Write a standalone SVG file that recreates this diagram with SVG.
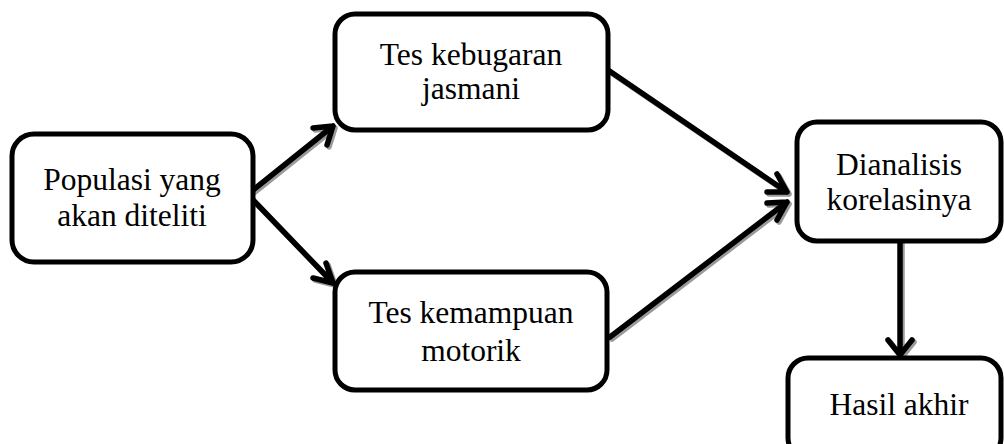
<svg xmlns="http://www.w3.org/2000/svg" width="1004" height="444" viewBox="0 0 1004 444">
<defs>
<style>
.box{fill:#fff;stroke:#000;stroke-width:5}
.t{font-family:"Liberation Serif","Times New Roman",serif;font-size:31.5px;fill:#000;text-anchor:middle}
.ln{fill:none;stroke:#000;stroke-width:5.5;stroke-linecap:round;stroke-linejoin:round}
.sh{fill:none;stroke:#9a9a9a;stroke-width:5.5;stroke-linecap:round;stroke-linejoin:round}
</style>
</defs>
<rect width="1004" height="444" fill="#fff"/>
<g id="connectors">
<g transform="translate(2,2)">
<path class="sh" d="M253 190 L333 126 M313 128 L333 126 L327 145"/>
<path class="sh" d="M253 200 L333 283 M326 263 L333 283 L313 278"/>
<path class="sh" d="M608 70 L787 192 M767 192 L787 192 L777 174"/>
<path class="sh" d="M610 337 L787 202 M777 220 L787 202 L767 203"/>
<path class="sh" d="M900 242 L900 355 M888 340 L900 355 L912 340"/>
</g>
<path class="ln" d="M253 190 L333 126 M313 128 L333 126 L327 145"/>
<path class="ln" d="M253 200 L333 283 M326 263 L333 283 L313 278"/>
<path class="ln" d="M608 70 L787 192 M767 192 L787 192 L777 174"/>
<path class="ln" d="M610 337 L787 202 M777 220 L787 202 L767 203"/>
<path class="ln" d="M900 242 L900 355 M888 340 L900 355 L912 340"/>
</g>
<g id="populasi">
<rect class="box" x="12" y="134" width="241" height="128" rx="22"/>
<text class="t" x="132" y="190">Populasi yang</text>
<text class="t" x="132" y="226">akan diteliti</text>
</g>
<g id="kebugaran">
<rect class="box" x="335" y="14" width="273" height="116" rx="20"/>
<text class="t" x="471" y="65">Tes kebugaran</text>
<text class="t" x="471" y="99">jasmani</text>
</g>
<g id="kemampuan">
<rect class="box" x="335" y="272" width="272" height="118" rx="20"/>
<text class="t" x="471" y="323">Tes kemampuan</text>
<text class="t" x="471" y="361">motorik</text>
</g>
<g id="dianalisis">
<rect class="box" x="797" y="122" width="204" height="119" rx="20"/>
<text class="t" x="899" y="175">Dianalisis</text>
<text class="t" x="899" y="210">korelasinya</text>
</g>
<g id="hasil">
<rect class="box" x="788" y="358" width="213" height="100" rx="20"/>
<text class="t" x="899" y="415">Hasil akhir</text>
</g>
</svg>
